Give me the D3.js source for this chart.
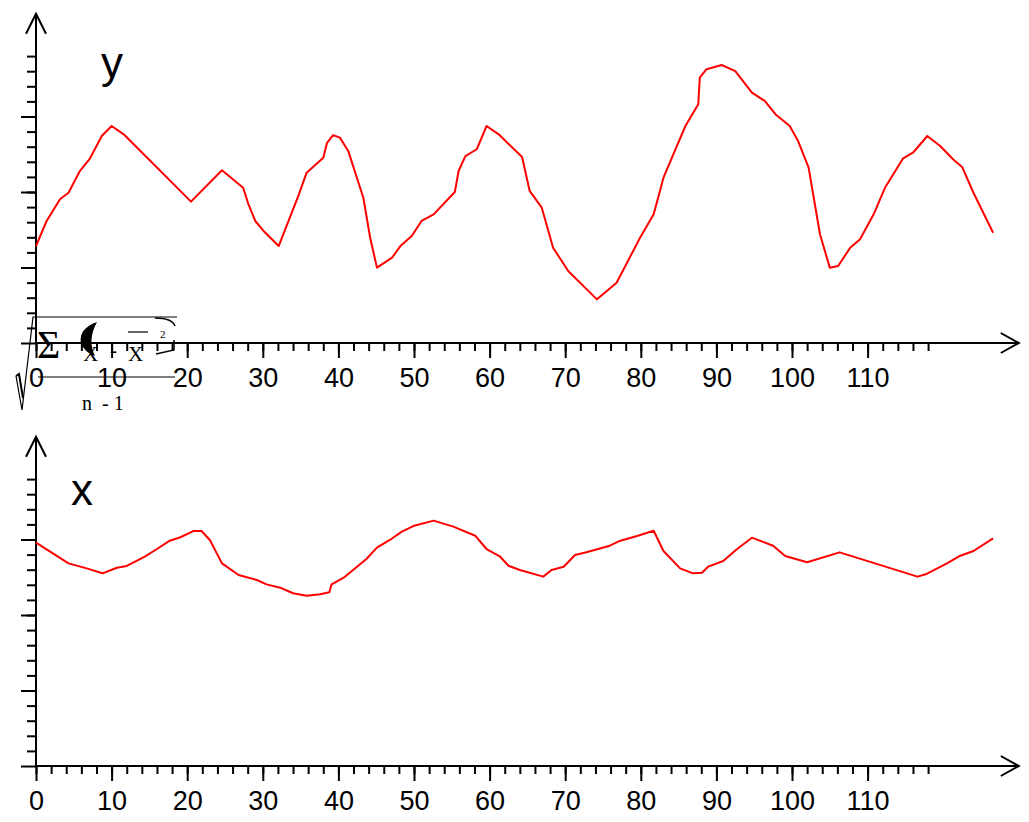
<!DOCTYPE html>
<html>
<head>
<meta charset="utf-8">
<script src="https://cdn.jsdelivr.net/npm/d3@7"></script>
<style>
  body { margin: 0; background: #ffffff; }
  svg { display: block; }
</style>
</head>
<body>
<div id="chart"></div>
<script>
// series "y" (upper panel): sample positions and values
const yPos = [0, 1.4, 3.2, 4.3, 5.8, 7.1, 8.7, 10.0, 11.6, 20.5, 24.6, 27.4, 28.1, 29.0, 30.1, 32.1,
  34.7, 35.8, 38.0, 38.5, 39.3, 40.2, 41.3, 43.3, 44.2, 45.1, 47.1, 48.2, 49.7, 51.0, 52.6, 55.4,
  55.9, 56.8, 58.3, 59.6, 61.2, 64.3, 65.3, 66.9, 68.4, 70.4, 74.2, 76.8, 79.9, 81.7, 83.0, 84.5,
  85.9, 87.6, 87.8, 88.7, 90.7, 92.5, 94.7, 96.4, 97.8, 99.7, 100.8, 102.2, 103.7, 105.0, 106.1,
  107.7, 109.0, 110.8, 112.3, 114.7, 116.0, 117.9, 119.6, 121.3, 122.5, 124.0, 126.6];
const yVal = [6.42, 8.08, 9.54, 9.95, 11.39, 12.19, 13.71, 14.37, 13.82, 9.36, 11.44, 10.28, 9.19, 8.08, 7.42, 6.42,
  9.74, 11.28, 12.27, 13.26, 13.77, 13.6, 12.72, 9.62, 6.97, 4.99, 5.65, 6.42, 7.09, 8.08, 8.52, 10.0,
  11.39, 12.38, 12.83, 14.37, 13.82, 12.32, 10.07, 8.96, 6.31, 4.77, 2.89, 3.99, 6.97, 8.52, 10.95, 12.72,
  14.37, 15.81, 17.57, 18.13, 18.41, 18.01, 16.58, 16.03, 15.15, 14.37, 13.38, 11.61, 7.2, 4.99, 5.1,
  6.31, 6.87, 8.52, 10.28, 12.23, 12.6, 13.71, 13.05, 12.17, 11.66, 9.95, 7.3];

// series "x" (lower panel)
const xPos = [0, 2.7, 4.3, 6.7, 8.8, 10.7, 12.0, 14.4, 16.0, 17.7, 19.1, 20.8, 21.9, 23.0, 24.6, 26.8,
  29.2, 30.5, 32.3, 34.0, 35.8, 37.6, 38.8, 39.1, 40.7, 43.7, 45.1, 46.8, 48.4, 49.9, 52.6, 55.2,
  58.1, 59.6, 61.4, 62.5, 64.0, 67.1, 68.2, 69.8, 71.3, 72.8, 75.9, 77.3, 79.5, 81.7, 83.0, 85.2,
  86.9, 88.1, 88.9, 90.9, 92.7, 94.7, 97.5, 99.1, 102.0, 106.3, 116.6, 117.8, 120.5, 122.2, 124.0, 126.6];
const xVal = [14.79, 13.93, 13.42, 13.09, 12.76, 13.13, 13.25, 13.86, 14.37, 14.92, 15.15, 15.56, 15.56, 14.97, 13.42, 12.65,
  12.32, 12.03, 11.81, 11.44, 11.28, 11.37, 11.5, 12.03, 12.47, 13.71, 14.46, 14.97, 15.52, 15.89, 16.25, 15.85,
  15.25, 14.37, 13.86, 13.26, 12.98, 12.54, 12.98, 13.2, 13.97, 14.15, 14.59, 14.92, 15.23, 15.58, 14.24, 13.09,
  12.76, 12.8, 13.2, 13.58, 14.35, 15.12, 14.59, 13.91, 13.49, 14.15, 12.54, 12.72, 13.42, 13.91, 14.24, 15.08];

// axis ticks
const xMinorTicks = d3.range(0, 119, 2);
const xMajorTicks = [0, 10, 20, 30, 40, 50, 60, 70, 80, 90, 100, 110];
const yMinorTicks = d3.range(1, 20);
const yMajorTicks = [0, 5, 10, 15];

const width = 1029;
const height = 822;
const unitX = 7.56;
const unitY = 15.1;
const xMax = 130;
const yMax = 21.8;
const lineColor = "#ff0000";
const sansFont = "'Liberation Sans', Arial, sans-serif";
const serifFont = "'Liberation Serif', 'Times New Roman', serif";

const svg = d3.select("#chart")
  .append("svg")
    .attr("width", width)
    .attr("height", height);

const x = d3.scaleLinear()
  .domain([0, xMax])
  .range([36, 36 + xMax * unitX]);

const panels = [
  { name: "y", pos: yPos, val: yVal, base: 343, labelX: 101, labelY: 78 },
  { name: "x", pos: xPos, val: xVal, base: 766, labelX: 71, labelY: 505 }
];

const drawPanel = (p) => {

  const y = d3.scaleLinear()
    .domain([0, yMax])
    .range([p.base, p.base - yMax * unitY]);

  const g = svg.append("g").attr("class", `panel-${p.name}`);

  // x ticks, minor then major with labels
  g.append("g")
    .attr("transform", `translate(0, ${p.base})`)
    .call(d3.axisBottom(x).tickValues(xMinorTicks).tickSize(8).tickFormat(""))
    .call(a => a.select(".domain").remove())
    .call(a => a.selectAll("line").attr("stroke", "#000").attr("stroke-width", 2));

  g.append("g")
    .attr("transform", `translate(0, ${p.base})`)
    .call(d3.axisBottom(x).tickValues(xMajorTicks).tickSize(15).tickPadding(10).tickFormat(d3.format("d")))
    .call(a => a.select(".domain").remove())
    .call(a => a.selectAll("line").attr("stroke", "#000").attr("stroke-width", 2))
    .call(a => a.selectAll("text")
      .style("font-family", sansFont)
      .style("font-size", "27px")
      .style("fill", "#000"));

  // y ticks
  g.append("g")
    .attr("transform", `translate(${x(0)}, 0)`)
    .call(d3.axisLeft(y).tickValues(yMinorTicks).tickSize(9).tickFormat(""))
    .call(a => a.select(".domain").remove())
    .call(a => a.selectAll("line").attr("stroke", "#000").attr("stroke-width", 2));

  g.append("g")
    .attr("transform", `translate(${x(0)}, 0)`)
    .call(d3.axisLeft(y).tickValues(yMajorTicks).tickSize(15).tickFormat(""))
    .call(a => a.select(".domain").remove())
    .call(a => a.selectAll("line").attr("stroke", "#000").attr("stroke-width", 2));

  // axis lines with open arrowheads
  const xEnd = x(xMax);
  const yTop = y(yMax);
  g.append("path")
    .attr("d", `M${x(0)},${p.base}H${xEnd}M${xEnd - 18},${p.base - 10}L${xEnd},${p.base}L${xEnd - 18},${p.base + 10}`)
    .attr("fill", "none")
    .attr("stroke", "#000")
    .attr("stroke-width", 2);
  g.append("path")
    .attr("d", `M${x(0)},${p.base}V${yTop}M${x(0) - 10},${yTop + 20}L${x(0)},${yTop}L${x(0) + 10},${yTop + 20}`)
    .attr("fill", "none")
    .attr("stroke", "#000")
    .attr("stroke-width", 2);

  // the series
  const line = d3.line()
    .x((d, i) => x(p.pos[i]))
    .y(d => y(d));
  g.append("path")
    .attr("d", line(p.val))
    .attr("fill", "none")
    .attr("stroke", lineColor)
    .attr("stroke-width", 2)
    .attr("stroke-linejoin", "round");

  g.append("text")
    .attr("x", p.labelX)
    .attr("y", p.labelY)
    .style("font-family", sansFont)
    .style("font-size", "44px")
    .style("fill", "#000")
    .text(p.name);

}

panels.forEach(drawPanel);

// the stray standard deviation formula over the upper axis
const formula = svg.append("g").attr("class", "formula");

formula.append("path")
  .attr("d", "M16,376L22,410L33,317H177")
  .attr("fill", "none")
  .attr("stroke", "#000")
  .attr("stroke-width", 1.2);
formula.append("path")
  .attr("d", "M16,376L19,374L23,398")
  .attr("fill", "none")
  .attr("stroke", "#000")
  .attr("stroke-width", 2);
formula.append("line")
  .attr("x1", 38).attr("x2", 175)
  .attr("y1", 377).attr("y2", 377)
  .attr("stroke", "#000")
  .attr("stroke-width", 1.2);
formula.append("text")
  .attr("x", 37).attr("y", 358)
  .style("font-family", serifFont)
  .style("font-size", "40px")
  .text("Σ");
formula.append("path")
  .attr("d", "M97,322Q78,329 81,343Q84,352 95,356Q87,340 97,322Z")
  .attr("fill", "#000");
formula.append("text")
  .attr("x", 83).attr("y", 361)
  .style("font-family", serifFont)
  .style("font-size", "21px")
  .text("X");
formula.append("text")
  .attr("x", 110).attr("y", 357)
  .style("font-family", serifFont)
  .style("font-size", "21px")
  .text("-");
formula.append("text")
  .attr("x", 128).attr("y", 361)
  .style("font-family", serifFont)
  .style("font-size", "21px")
  .text("X");
formula.append("line")
  .attr("x1", 128).attr("x2", 148)
  .attr("y1", 332).attr("y2", 332)
  .attr("stroke", "#000")
  .attr("stroke-width", 1.2);
formula.append("text")
  .attr("x", 160).attr("y", 338)
  .style("font-family", serifFont)
  .style("font-size", "11px")
  .text("2");
formula.append("path")
  .attr("d", "M155,318Q172,318 175,326M174,340V350L156,354")
  .attr("fill", "none")
  .attr("stroke", "#000")
  .attr("stroke-width", 1.5);
formula.append("text")
  .attr("x", 82).attr("y", 410)
  .style("font-family", serifFont)
  .style("font-size", "20px")
  .attr("xml:space", "preserve")
  .style("white-space", "pre")
  .text("n  - 1");
</script>
</body>
</html>
